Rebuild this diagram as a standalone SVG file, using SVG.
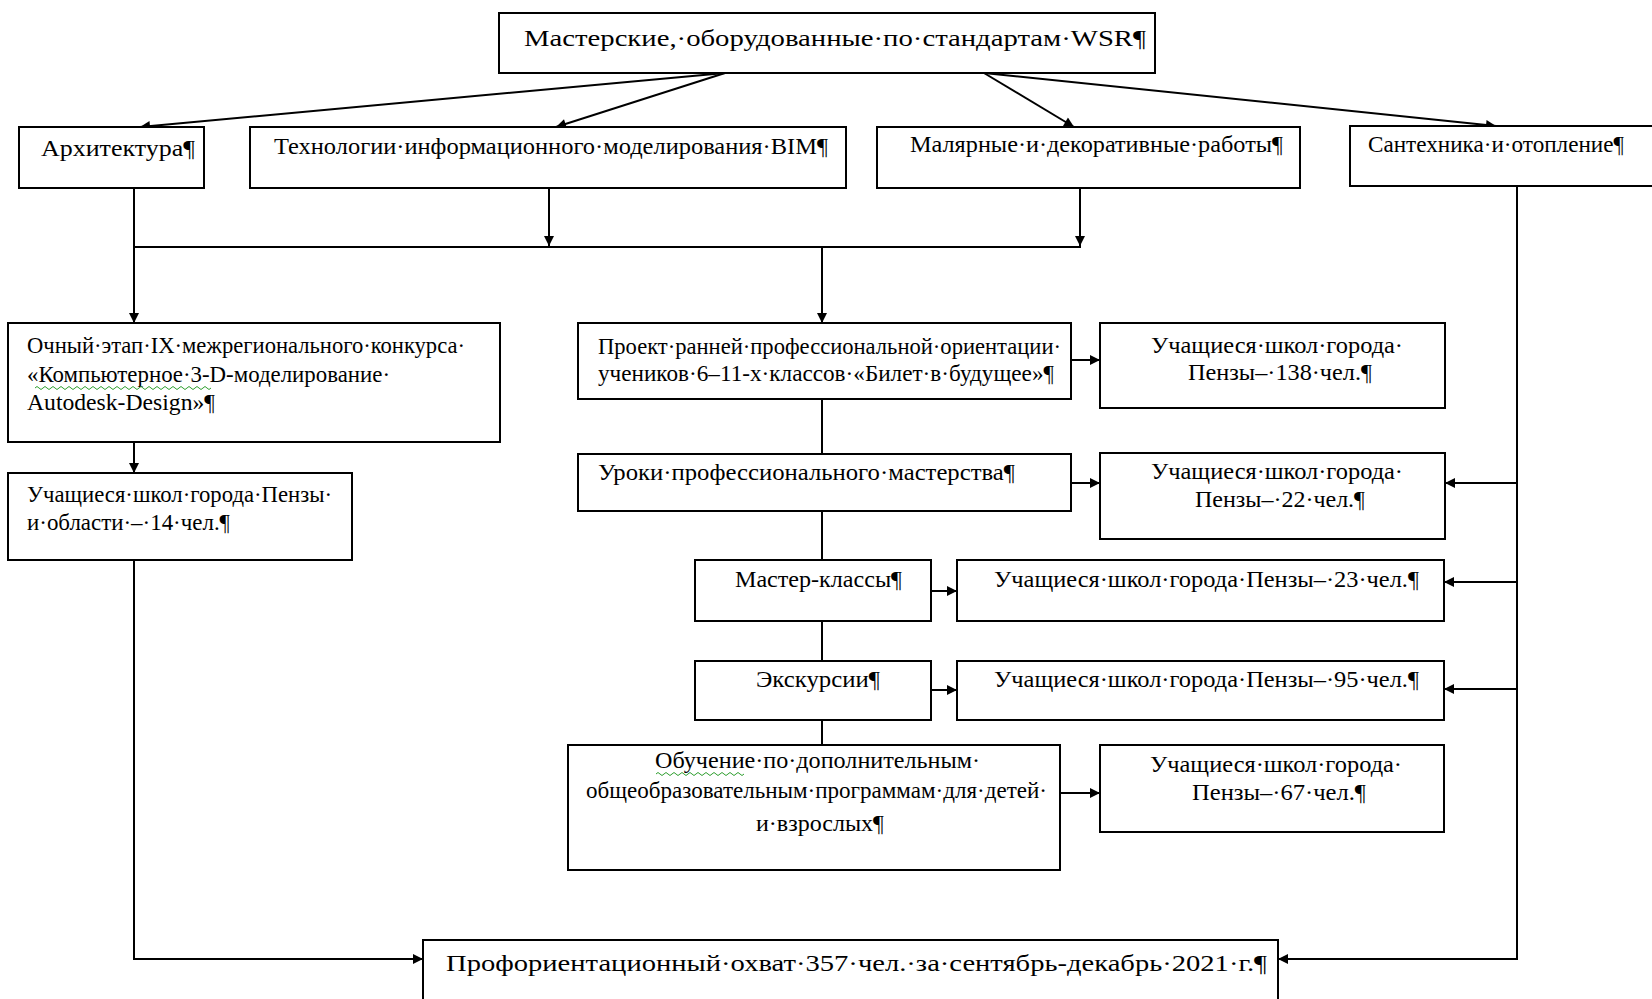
<svg xmlns="http://www.w3.org/2000/svg" width="1652" height="999" viewBox="0 0 1652 999">
<style>
  .box { fill: #ffffff; stroke: #000000; stroke-width: 2; }
  .t { font-family: "Liberation Serif", "Times New Roman", serif; font-size: 24px; fill: #000000; }
  .c { stroke: #000000; stroke-width: 2; fill: none; }
  .ca { stroke: #000000; stroke-width: 2; fill: none; marker-end: url(#arr); }
  .wavy { stroke: #2e9e2e; stroke-width: 1; fill: none; }
</style>
<defs>
  <marker id="arr" viewBox="0 0 10 10" refX="10" refY="5" markerWidth="5.5" markerHeight="5" markerUnits="strokeWidth" orient="auto">
    <path d="M0,0 L10,5 L0,10 Z" fill="#000000"/>
  </marker>
</defs>
<rect width="1652" height="999" fill="#ffffff"/>

<g id="connectors">
  <line class="ca" x1="725" y1="73" x2="140" y2="127"/>
  <line class="ca" x1="725" y1="73" x2="556" y2="127"/>
  <line class="ca" x1="984" y1="73" x2="1074" y2="127"/>
  <line class="ca" x1="984" y1="73" x2="1496" y2="126"/>
  <line class="ca" x1="549" y1="188" x2="549" y2="246"/>
  <line class="ca" x1="1080" y1="188" x2="1080" y2="246"/>
  <line class="c" x1="134" y1="247" x2="1081" y2="247"/>
  <line class="ca" x1="134" y1="188" x2="134" y2="323"/>
  <line class="ca" x1="822" y1="247" x2="822" y2="323"/>
  <line class="ca" x1="134" y1="442" x2="134" y2="473"/>
  <polyline class="ca" points="134,560 134,959 423,959"/>
  <line class="ca" x1="1071" y1="360" x2="1100" y2="360"/>
  <line class="c" x1="822" y1="399" x2="822" y2="454"/>
  <line class="c" x1="822" y1="511" x2="822" y2="560"/>
  <line class="c" x1="822" y1="621" x2="822" y2="661"/>
  <line class="c" x1="822" y1="720" x2="822" y2="745"/>
  <line class="ca" x1="1071" y1="483" x2="1100" y2="483"/>
  <line class="ca" x1="931" y1="591" x2="957" y2="591"/>
  <line class="ca" x1="931" y1="690" x2="957" y2="690"/>
  <line class="ca" x1="1060" y1="793" x2="1100" y2="793"/>
  <polyline class="ca" points="1517,186 1517,959 1278,959"/>
  <line class="ca" x1="1517" y1="483" x2="1445" y2="483"/>
  <line class="ca" x1="1517" y1="582" x2="1444" y2="582"/>
  <line class="ca" x1="1517" y1="689" x2="1444" y2="689"/>
</g>

<g id="n-top">
  <rect class="box" x="499" y="13" width="656" height="60"/>
  <text class="t" x="524" y="46" font-size="25" textLength="622" lengthAdjust="spacingAndGlyphs">Мастерские,·оборудованные·по·стандартам·WSR¶</text>
</g>
<g id="n-arch">
  <rect class="box" x="19" y="127" width="185" height="61"/>
  <text class="t" x="41" y="156" textLength="154" lengthAdjust="spacingAndGlyphs">Архитектура¶</text>
</g>
<g id="n-bim">
  <rect class="box" x="250" y="127" width="596" height="61"/>
  <text class="t" x="274" y="154" textLength="554" lengthAdjust="spacingAndGlyphs">Технологии·информационного·моделирования·BIM¶</text>
</g>
<g id="n-paint">
  <rect class="box" x="877" y="127" width="423" height="61"/>
  <text class="t" x="910" y="152" textLength="373" lengthAdjust="spacingAndGlyphs">Малярные·и·декоративные·работы¶</text>
</g>
<g id="n-plumb">
  <rect class="box" x="1350" y="126" width="320" height="60"/>
  <text class="t" x="1368" y="152" textLength="256" lengthAdjust="spacingAndGlyphs">Сантехника·и·отопление¶</text>
</g>

<g id="n-contest">
  <rect class="box" x="8" y="323" width="492" height="119"/>
  <text class="t" x="27" y="353" textLength="438" lengthAdjust="spacingAndGlyphs">Очный·этап·IX·межрегионального·конкурса·</text>
  <text class="t" x="27" y="382" textLength="363" lengthAdjust="spacingAndGlyphs">«Компьютерное·3-D-моделирование·</text>
  <path class="wavy" d="M35,388 q2,-3 4,0 t4,0 t4,0 t4,0 t4,0 t4,0 t4,0 t4,0 t4,0 t4,0 t4,0 t4,0 t4,0 t4,0 t4,0 t4,0 t4,0 t4,0 t4,0 t4,0 t4,0 t4,0 t4,0 t4,0 t4,0 t4,0 t4,0 t4,0 t4,0 t4,0 t4,0 t4,0 t4,0 t4,0 t4,0 t4,0 t4,0 t4,0 t4,0 t4,0 t4,0 t4,0 t4,0 t4,0"/>
  <text class="t" x="27" y="410" textLength="188" lengthAdjust="spacingAndGlyphs">Autodesk-Design»¶</text>
</g>
<g id="n-left14">
  <rect class="box" x="8" y="473" width="344" height="87"/>
  <text class="t" x="27" y="502" textLength="305" lengthAdjust="spacingAndGlyphs">Учащиеся·школ·города·Пензы·</text>
  <text class="t" x="27" y="530" textLength="203" lengthAdjust="spacingAndGlyphs">и·области·–·14·чел.¶</text>
</g>

<g id="n-project">
  <rect class="box" x="578" y="323" width="493" height="76"/>
  <text class="t" x="598" y="354" textLength="463" lengthAdjust="spacingAndGlyphs">Проект·ранней·профессиональной·ориентации·</text>
  <text class="t" x="598" y="381" textLength="456" lengthAdjust="spacingAndGlyphs">учеников·6–11-х·классов·«Билет·в·будущее»¶</text>
</g>
<g id="n-r138">
  <rect class="box" x="1100" y="323" width="345" height="85"/>
  <text class="t" x="1151" y="353" textLength="252" lengthAdjust="spacingAndGlyphs">Учащиеся·школ·города·</text>
  <text class="t" x="1188" y="380" textLength="184" lengthAdjust="spacingAndGlyphs">Пензы–·138·чел.¶</text>
</g>
<g id="n-lessons">
  <rect class="box" x="578" y="454" width="493" height="57"/>
  <text class="t" x="598" y="480" textLength="417" lengthAdjust="spacingAndGlyphs">Уроки·профессионального·мастерства¶</text>
</g>
<g id="n-r22">
  <rect class="box" x="1100" y="453" width="345" height="86"/>
  <text class="t" x="1151" y="479" textLength="252" lengthAdjust="spacingAndGlyphs">Учащиеся·школ·города·</text>
  <text class="t" x="1195" y="507" textLength="170" lengthAdjust="spacingAndGlyphs">Пензы–·22·чел.¶</text>
</g>
<g id="n-master">
  <rect class="box" x="695" y="560" width="236" height="61"/>
  <text class="t" x="735" y="587" textLength="167" lengthAdjust="spacingAndGlyphs">Мастер-классы¶</text>
</g>
<g id="n-r23">
  <rect class="box" x="957" y="560" width="487" height="61"/>
  <text class="t" x="994" y="587" textLength="425" lengthAdjust="spacingAndGlyphs">Учащиеся·школ·города·Пензы–·23·чел.¶</text>
</g>
<g id="n-excursion">
  <rect class="box" x="695" y="661" width="236" height="59"/>
  <text class="t" x="756" y="687" textLength="124" lengthAdjust="spacingAndGlyphs">Экскурсии¶</text>
</g>
<g id="n-r95">
  <rect class="box" x="957" y="661" width="487" height="59"/>
  <text class="t" x="994" y="687" textLength="425" lengthAdjust="spacingAndGlyphs">Учащиеся·школ·города·Пензы–·95·чел.¶</text>
</g>
<g id="n-training">
  <rect class="box" x="568" y="745" width="492" height="125"/>
  <text class="t" x="655" y="768" textLength="325" lengthAdjust="spacingAndGlyphs">Обучение·по·дополнительным·</text>
  <path class="wavy" d="M656,774 q2,-3 4,0 t4,0 t4,0 t4,0 t4,0 t4,0 t4,0 t4,0 t4,0 t4,0 t4,0 t4,0 t4,0 t4,0 t4,0 t4,0 t4,0 t4,0 t4,0 t4,0 t4,0 t4,0"/>
  <text class="t" x="586" y="798" textLength="461" lengthAdjust="spacingAndGlyphs">общеобразовательным·программам·для·детей·</text>
  <text class="t" x="756" y="831" textLength="128" lengthAdjust="spacingAndGlyphs">и·взрослых¶</text>
</g>
<g id="n-r67">
  <rect class="box" x="1100" y="745" width="344" height="87"/>
  <text class="t" x="1150" y="772" textLength="252" lengthAdjust="spacingAndGlyphs">Учащиеся·школ·города·</text>
  <text class="t" x="1192" y="800" textLength="174" lengthAdjust="spacingAndGlyphs">Пензы–·67·чел.¶</text>
</g>

<g id="n-total">
  <rect class="box" x="423" y="940" width="855" height="70"/>
  <text class="t" x="446" y="971" textLength="821" lengthAdjust="spacingAndGlyphs">Профориентационный·охват·357·чел.·за·сентябрь-декабрь·2021·г.¶</text>
</g>
</svg>
